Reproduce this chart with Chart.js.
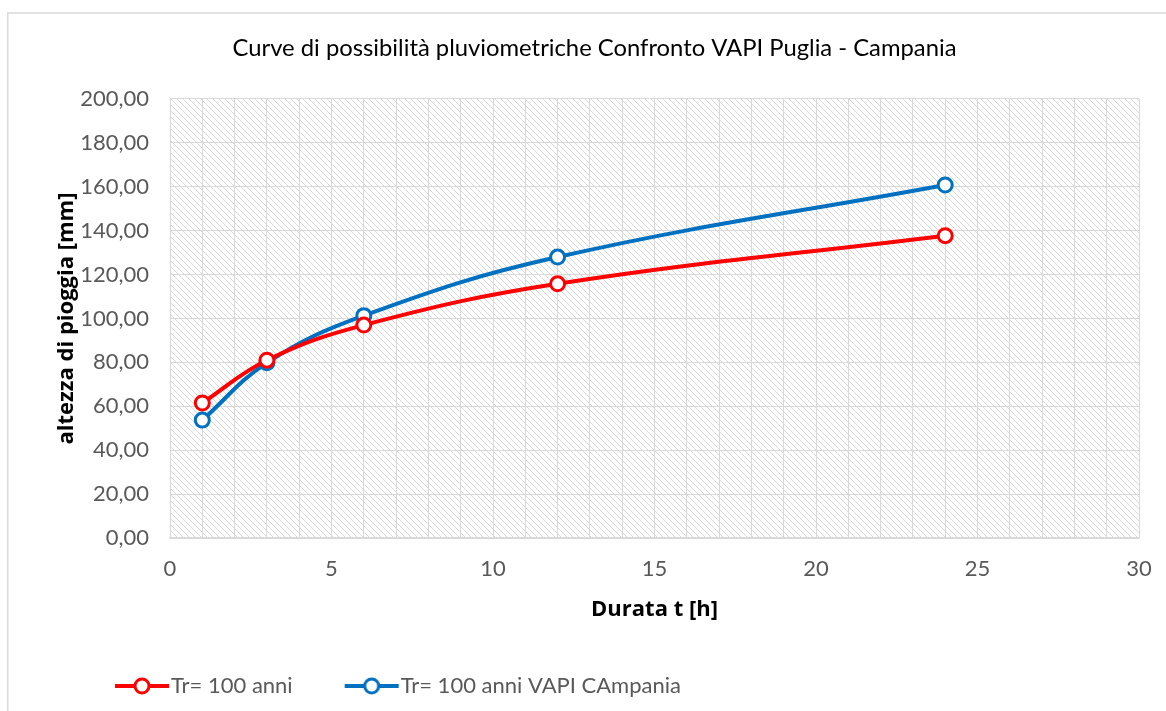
<!DOCTYPE html>
<html><head><meta charset="utf-8">
<script src="https://cdn.jsdelivr.net/npm/chart.js@4.4.0/dist/chart.umd.min.js"></script>
<style>html,body{margin:0;padding:0;background:#fff;overflow:hidden}#wrap{width:1166px;height:711px;position:relative}</style>
</head><body><div id="wrap"><canvas id="c" width="1166" height="711"></canvas></div>
<script>
// ---- data ----
const durations = [1, 3, 6, 12, 24];
const pugliaTr100 = [61.5, 81.0, 97.0, 115.8, 137.7];
const campaniaTr100 = [53.7, 79.8, 101.3, 128.0, 160.8];
const seriesNames = ['Tr= 100 anni', 'Tr= 100 anni VAPI CAmpania'];
const seriesColors = ['#FF0000', '#0070C0'];
const chartTitle = 'Curve di possibilità pluviometriche Confronto VAPI Puglia - Campania';
const xAxisTitle = 'Durata t [h]';
const yAxisTitle = 'altezza di pioggia [mm]';
const xTickLabels = [0, 5, 10, 15, 20, 25, 30];
const yTickLabels = ['0,00','20,00','40,00','60,00','80,00','100,00','120,00','140,00','160,00','180,00','200,00'];

// ---- styling helpers ----
const TICK_FONT = {family: 'Lato', size: 22, lineHeight: 1.2};
const LEG_P = 40, LEG_W = 57, LEG_OFF = 10.5;

function makeHatch() {
  const n = 6, c = document.createElement('canvas');
  c.width = n; c.height = n;
  const g = c.getContext('2d');
  g.strokeStyle = '#dadada'; g.lineWidth = 1;
  for (const k of [-n, 0, n]) {
    g.beginPath(); g.moveTo(-1, -1 + k); g.lineTo(n + 1, n + 1 + k); g.stroke();
  }
  return c;
}
function legendImage(color) {
  const w = Math.round(2 * (LEG_OFF + 29)), h = 22, c = document.createElement('canvas');
  c.width = w; c.height = h;
  const g = c.getContext('2d');
  const cx = w / 2 + LEG_OFF, cy = h / 2;
  g.strokeStyle = color; g.lineWidth = 4;
  g.beginPath(); g.moveTo(cx - 27, cy); g.lineTo(cx + 27, cy); g.stroke();
  g.beginPath(); g.arc(cx, cy, 7, 0, Math.PI * 2);
  g.fillStyle = '#fff'; g.fill(); g.lineWidth = 3; g.stroke();
  return c;
}
const legendImgs = seriesColors.map(legendImage);

const bgPlugin = {
  id: 'bg',
  beforeDraw(chart) {
    const {ctx, chartArea: a} = chart;
    ctx.save();
    ctx.fillStyle = '#fff'; ctx.fillRect(0, 0, chart.width, chart.height);
    ctx.fillStyle = ctx.createPattern(makeHatch(), 'repeat');
    ctx.fillRect(a.left, a.top, a.right - a.left, a.bottom - a.top);
    ctx.strokeStyle = '#d9d9d9'; ctx.lineWidth = 1.5;
    ctx.beginPath(); ctx.moveTo(7.75, chart.height + 2); ctx.lineTo(7.75, 13); ctx.lineTo(chart.width + 2, 13); ctx.stroke();
    ctx.restore();
  }
};
const legendShift = {
  id: 'legendShift',
  afterLayout(chart) { if (chart.legend) { chart.legend.left = 63; } }
};

const toPts = (ys) => durations.map((x, i) => ({x, y: ys[i]}));

new Chart(document.getElementById('c'), {
  type: 'line',
  data: {
    datasets: [pugliaTr100, campaniaTr100].map((ys, i) => ({
      label: seriesNames[i],
      data: toPts(ys),
      borderColor: seriesColors[i],
      backgroundColor: '#ffffff',
      borderWidth: 4,
      tension: 0.4,
      pointRadius: 7,
      pointHoverRadius: 7,
      pointBorderWidth: 3,
      pointBackgroundColor: '#ffffff',
      pointBorderColor: seriesColors[i],
      fill: false
    }))
  },
  options: {
    responsive: false,
    animation: false,
    devicePixelRatio: 1,
    layout: {padding: {left: 50, right: 27, top: 0, bottom: 4}},
    plugins: {
      title: {
        display: true, text: chartTitle, color: '#000',
        font: {family: 'Lato', size: 23.8, weight: 'normal', lineHeight: 1.2},
        padding: {top: 33.7, bottom: 36.7}
      },
      legend: {
        display: true, position: 'bottom', align: 'start',
        labels: {
          usePointStyle: true, pointStyleWidth: LEG_W, padding: LEG_P,
          color: '#595959', font: TICK_FONT,
          generateLabels(chart) {
            const items = Chart.defaults.plugins.legend.labels.generateLabels(chart);
            items.forEach((it, i) => { it.pointStyle = legendImgs[i]; });
            return items;
          }
        }
      },
      tooltip: {enabled: false}
    },
    scales: {
      x: {
        type: 'linear', min: 0, max: 30,
        afterFit(s) { s.height = 97; s.paddingRight = 0; },
        ticks: {
          stepSize: 1, autoSkip: false, maxRotation: 0, color: '#595959', font: TICK_FONT, padding: 18,
          callback: (v) => xTickLabels.includes(v) ? String(v) : ''
        },
        grid: {color: '#d9d9d9', lineWidth: 1, drawTicks: false},
        border: {color: '#d9d9d9', width: 1.5},
        title: {display: true, text: xAxisTitle, color: '#000',
          font: {family: 'Open Sans', size: 22, weight: 'bold', lineHeight: 1.2}, padding: {top: 0, bottom: 11.8}}
      },
      y: {
        type: 'linear', min: 0, max: 200,
        afterFit(s) { s.width = 120; },
        ticks: {
          stepSize: 20, color: '#595959', font: TICK_FONT, padding: 21,
          callback: (v) => yTickLabels[Math.round(v / 20)]
        },
        grid: {color: '#d9d9d9', lineWidth: 1, drawTicks: false},
        border: {color: '#d9d9d9', width: 1},
        title: {display: true, text: yAxisTitle, color: '#000',
          font: {family: 'Open Sans', size: 22, weight: 'bold', lineHeight: 1.2}, padding: {top: 3.5, bottom: 0}}
      }
    }
  },
  plugins: [bgPlugin, legendShift]
});
</script></body></html>
